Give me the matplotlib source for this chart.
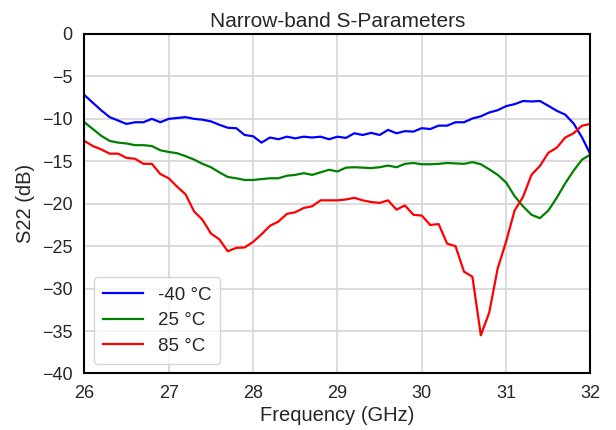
import matplotlib.pyplot as plt
import numpy as np

plt.rcParams['font.family'] = ['Liberation Sans', 'DejaVu Sans']

freq = np.round(np.arange(26.0, 32.05, 0.1), 1)

s22_m40 = [-7.2, -8.1, -9.0, -9.8, -10.2, -10.6, -10.4, -10.4, -10.0, -10.4,
           -10.0, -9.9, -9.8, -10.0, -10.1, -10.3, -10.7, -11.05, -11.1, -11.9,
           -12.05, -12.8, -12.2, -12.4, -12.1, -12.3, -12.1, -12.2, -12.1, -12.4,
           -12.1, -12.25, -11.7, -11.9, -11.65, -11.9, -11.3, -11.7, -11.45, -11.5,
           -11.1, -11.2, -10.8, -10.8, -10.4, -10.4, -9.96, -9.7, -9.25, -8.98,
           -8.5, -8.27, -7.9, -7.95, -7.9, -8.46, -9.05, -9.5, -10.55, -12.2,
           -14.2]

s22_25 = [-10.4, -11.2, -12.0, -12.6, -12.8, -12.9, -13.1, -13.1, -13.2, -13.7,
          -13.9, -14.05, -14.4, -14.8, -15.3, -15.7, -16.3, -16.85, -17.0, -17.2,
          -17.2, -17.1, -17.0, -17.0, -16.7, -16.6, -16.4, -16.6, -16.3, -16.0,
          -16.2, -15.75, -15.7, -15.75, -15.8, -15.7, -15.5, -15.7, -15.3, -15.2,
          -15.35, -15.35, -15.3, -15.2, -15.25, -15.3, -15.1, -15.35, -15.95, -16.6,
          -17.5, -19.1, -20.3, -21.3, -21.7, -20.8, -19.3, -17.6, -16.1, -14.8,
          -14.2]

s22_85 = [-12.6, -13.2, -13.6, -14.1, -14.1, -14.6, -14.7, -15.3, -15.3, -16.5,
          -17.0, -18.0, -18.9, -20.9, -21.9, -23.5, -24.2, -25.6, -25.2, -25.15,
          -24.5, -23.6, -22.6, -22.1, -21.2, -21.0, -20.5, -20.3, -19.6, -19.6,
          -19.6, -19.5, -19.3, -19.6, -19.8, -19.9, -19.6, -20.7, -20.2, -21.3,
          -21.4, -22.5, -22.4, -24.7, -25.0, -28.0, -28.6, -35.5, -32.8, -27.6,
          -24.45, -20.8, -19.2, -16.6, -15.55, -14.0, -13.4, -12.2, -11.7, -10.8,
          -10.6]

fig, ax = plt.subplots(figsize=(6.16, 4.30), dpi=100)
fig.subplots_adjust(left=0.137, right=0.9586, top=0.921, bottom=0.1314)

ax.plot(freq, s22_m40, color='blue', lw=1.6, label='-40 °C')
ax.plot(freq, s22_25, color='green', lw=1.6, label='25 °C')
ax.plot(freq, s22_85, color='red', lw=1.6, label='85 °C')

ax.set_xlim(26, 32)
ax.set_ylim(-40, 0)
ax.set_yticks(np.arange(-40, 1, 5))
ax.grid(True, color='#d6d6d6', lw=1.2)
ax.set_axisbelow(True)
for sp in ax.spines.values():
    sp.set_color('black')
    sp.set_linewidth(1.5)
ax.tick_params(labelsize=13, length=0, pad=8.5, colors='#262626')

ax.set_title('Narrow-band S-Parameters', fontsize=15, color='#262626', pad=5)
ax.set_xlabel('Frequency (GHz)', fontsize=14.5, color='#262626', labelpad=3)
ax.set_ylabel('S22 (dB)', fontsize=14.5, color='#262626', labelpad=5)
leg = ax.legend(loc='lower left', fontsize=13.5, frameon=True, borderpad=0.5,
                labelspacing=0.45, handlelength=2.1, handletextpad=0.8)
for t in leg.get_texts():
    t.set_color('#262626')

plt.savefig('out.png')
